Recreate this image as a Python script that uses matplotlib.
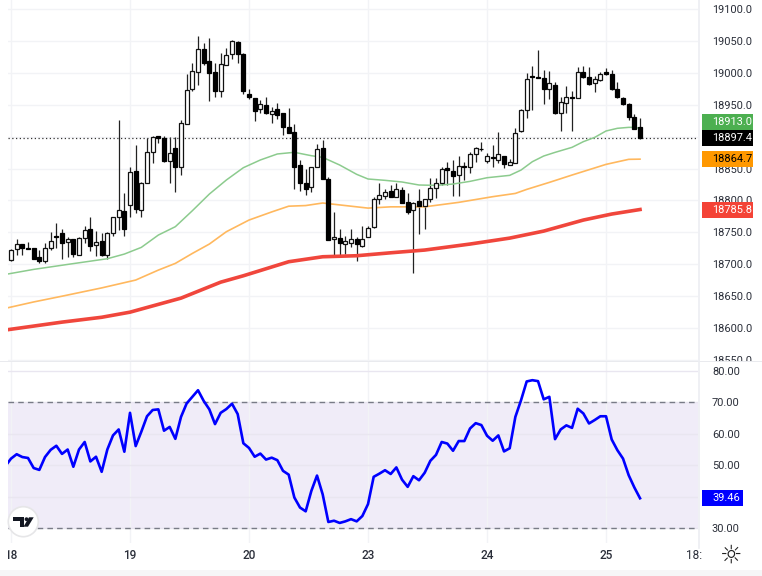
import matplotlib
matplotlib.use("Agg")
import matplotlib.pyplot as plt
from matplotlib.patches import Rectangle, Circle, Polygon
from matplotlib.transforms import Bbox, blended_transform_factory
import numpy as np

plt.rcParams['font.family'] = ['Roboto', 'DejaVu Sans']

opens = [18706.6,18723.8,18731.7,18726.0,18725.4,18710.8,18704.5,18725.4,18743.7,18749.4,
         18734.3,18740.0,18715.0,18741.6,18754.7,18729.6,18735.9,18713.9,18748.4,18773.5,
         18783.4,18792.3,18846.1,18785.0,18827.8,18875.4,18901.0,18897.8,18861.8,18881.6,
         18851.8,18920.3,18974.0,19000.8,19036.8,19018.5,19000.8,18972.0,19012.3,19029.5,
         19048.3,19029.5,18966.8,18960.0,18942.7,18949.0,18935.4,18942.7,18936.5,18914.6,
         18907.2,18855.0,18826.8,18820.5,18852.9,18881.6,18833.0,18739.0,18740.6,18731.7,
         18733.8,18739.0,18729.0,18743.2,18757.8,18802.7,18807.4,18814.2,18805.9,18816.3,
         18797.0,18784.4,18798.6,18791.2,18802.7,18818.9,18826.8,18850.3,18846.1,18839.8,
         18854.4,18851.8,18872.7,18881.1,18862.3,18868.5,18863.8,18869.6,18856.0,18859.1,
         18908.3,18941.2,18994.5,18993.4,18991.3,18975.1,18981.4,18936.5,18953.2,18962.1,
         18960.0,19000.7,18994.0,18983.5,18988.7,19000.7,18998.1,18974.1,18960.0,18950.6,
         18931.3,18914.5]
closes = [18722.3,18731.7,18725.4,18724.4,18708.7,18705.6,18725.4,18735.9,18742.1,18732.7,
          18739.0,18716.0,18741.6,18753.6,18728.5,18735.3,18715.0,18748.4,18773.5,18785.0,
          18755.2,18844.5,18786.0,18826.8,18875.4,18898.9,18898.4,18861.8,18873.8,18851.8,
          18920.8,18972.6,19002.3,19036.8,19014.9,19000.2,18972.0,19013.8,19027.4,19050.4,
          19030.0,18972.0,18961.5,18940.6,18951.1,18936.4,18940.6,18934.4,18915.6,18906.2,
          18852.9,18827.8,18817.4,18851.9,18880.1,18834.1,18738.0,18742.1,18732.7,18735.9,
          18739.0,18731.7,18739.0,18757.3,18801.7,18809.0,18813.2,18805.9,18817.4,18796.5,
          18781.8,18796.5,18791.2,18801.7,18818.9,18827.8,18848.7,18847.2,18838.3,18853.9,
          18852.3,18872.7,18881.6,18880.0,18869.6,18866.5,18872.2,18856.5,18860.7,18905.1,
          18941.2,18989.8,18992.9,18992.4,18975.1,18983.5,18936.5,18954.8,18961.6,18960.5,
          19000.7,18994.0,18982.5,18989.8,18998.1,18997.6,18974.1,18961.6,18951.1,18930.2,
          18912.4,18897.4]
highs = [18723.3,18739.0,18731.7,18734.8,18725.4,18722.3,18732.7,18750.5,18765.0,18754.7,
         18743.2,18740.0,18743.2,18759.9,18774.5,18751.5,18748.4,18750.5,18774.5,18926.0,
         18811.1,18852.9,18886.3,18828.9,18897.3,18901.0,18901.0,18901.0,18899.9,18899.9,
         18926.0,18997.6,19015.9,19057.7,19047.3,19054.6,19014.9,19030.6,19038.4,19051.4,
         19050.4,19030.6,18974.0,18960.0,18957.4,18962.6,18945.9,18952.1,18936.5,18944.3,
         18919.8,18863.4,18849.8,18852.9,18888.4,18894.7,18837.2,18782.4,18754.7,18744.2,
         18754.7,18742.1,18759.9,18759.9,18804.8,18826.8,18817.4,18824.2,18826.8,18820.5,
         18811.1,18797.5,18817.4,18802.7,18834.6,18834.6,18853.0,18860.7,18863.4,18869.6,
         18860.7,18875.9,18884.2,18892.1,18874.8,18886.3,18907.2,18869.6,18864.4,18912.9,
         18942.8,18999.2,19010.7,19035.8,19004.4,19002.3,18985.6,18962.6,18979.3,18972.0,
         19009.6,19010.7,19009.6,18995.0,19001.8,19007.0,19004.4,18985.1,18962.6,18953.2,
         18935.4,18928.6]
lows = [18705.6,18714.4,18714.4,18723.3,18708.7,18702.4,18701.4,18722.3,18724.9,18708.7,
        18711.8,18711.8,18714.4,18732.7,18720.2,18712.9,18712.9,18708.7,18744.2,18753.6,
        18744.2,18774.5,18779.8,18774.5,18827.8,18858.1,18889.5,18860.7,18827.8,18813.2,
        18840.4,18919.8,18972.0,18980.4,19012.8,18955.3,18961.6,18962.6,19012.3,19021.1,
        19015.9,18966.8,18958.4,18925.0,18937.5,18935.4,18921.8,18927.0,18903.0,18905.2,
        18817.4,18814.2,18808.5,18813.2,18852.9,18833.0,18738.0,18712.9,18710.8,18716.0,
        18727.5,18705.6,18727.5,18742.1,18756.2,18794.4,18802.7,18805.9,18805.9,18795.4,
        18778.7,18686.8,18747.4,18754.7,18798.0,18803.3,18824.2,18824.2,18806.9,18806.9,
        18832.0,18843.5,18860.7,18878.0,18859.1,18851.8,18858.1,18850.3,18855.0,18858.1,
        18907.7,18929.2,18941.7,18992.4,18951.1,18958.4,18935.4,18909.3,18936.5,18909.3,
        18960.0,18991.3,18980.9,18970.4,18987.7,18996.6,18973.0,18960.0,18949.5,18926.0,
        18911.4,18896.3]

ma_fast_idx = [-1,4,10,17,20,23,26,29,32,35,38,41,44,47,50,53,55,58,61,63,66,69,72,75,78,81,84,88,90,92,94,96,99,101,103,105,107,109,110,111]
ma_fast = [18684.1,18692.0,18699.8,18708.7,18716.0,18726.5,18745.8,18758.9,18783.9,18810.0,18832.0,18851.3,
           18863.4,18872.8,18875.4,18870.1,18867.5,18855.5,18840.9,18833.6,18831.5,18828.9,18824.2,18823.6,
           18825.7,18829.9,18835.6,18839.3,18847.6,18860.7,18869.6,18875.3,18883.2,18892.1,18898.8,18908.8,
           18913.0,18914.5,18914.5,18913.0]
ma_mid_idx = [-1,4,9,16,22,26,29,32,35,38,42,46,49,52,55,58,63,67,73,79,85,89,91,95,99,105,109,111]
ma_mid = [18631,18641,18650,18663,18675.3,18690.9,18701.4,18717.0,18731.7,18751.0,18769.3,18782.0,18791.0,
          18792.0,18796.0,18793.0,18788.0,18790.0,18790.0,18797.0,18805.9,18811.0,18817.3,18828.3,18839.8,
          18856.5,18864.4,18864.7]
ma_slow_idx = [-1,9,16,21,30,37,41,49,55,61,67,73,81,88,94,101,106,111]
ma_slow = [18597,18609.4,18617,18625,18647,18672,18682,18704,18711.8,18713.4,18718,18722.3,18731.7,18741,
           18752,18769.3,18778.7,18785.8]

rsi = [49.7,52.1,53.5,52.6,52.3,49.1,48.5,52.6,54.9,56.2,53.6,55.0,49.5,55.0,57.4,51.2,52.7,47.9,55.0,59.5,61.4,
       54.3,66.7,56.1,60.7,65.6,67.6,67.8,61.0,62.2,58.4,65.4,69.7,71.8,73.9,70.5,67.8,63.1,66.7,67.9,69.6,66.3,
       57.0,55.5,52.7,53.7,51.8,52.4,51.6,48.2,47.0,39.7,36.5,35.3,41.8,46.7,40.7,31.9,32.3,31.6,32.1,32.8,32.1,
       33.8,37.6,46.3,47.3,48.4,47.2,49.3,45.4,43.1,46.5,45.2,47.6,51.4,53.3,57.4,56.9,54.6,57.7,57.7,61.7,63.4,
       62.8,59.4,57.8,59.5,54.4,55.4,65.4,70.7,76.7,77.1,76.8,71.0,71.8,58.3,61.4,62.7,61.9,68.0,66.5,63.3,64.4,
       65.6,65.6,58.2,54.8,52.1,46.8,42.9,39.46]

date_idx = [0, 21, 42, 63, 84, 105]
date_labels = ['18', '19', '20', '23', '24', '25']
price_grid = [18550,18600,18650,18700,18750,18800,18850,18900,18950,19000,19050,19100]
rsi_ticks = [30,40,50,60,70,80]
rsi_tick_labels = ['30.00','','50.00','60.00','70.00','80.00']

W, H = 762, 576
fig = plt.figure(figsize=(W/100, H/100), dpi=100, facecolor='white')
def axbox(l, t, r, b):
    return [l/W, 1-b/H, (r-l)/W, (b-t)/H]
ax = fig.add_axes(axbox(8, 0, 698, 361))
ar = fig.add_axes(axbox(8, 362, 698, 543))
GRID = '#f2f3f6'
TXT = '#2a2e39'
xlim = (-0.53, 121.23)
for a in (ax, ar):
    a.set_xlim(*xlim)
    for s in a.spines.values():
        s.set_visible(False)
    a.yaxis.tick_right()
    a.set_xticks(date_idx)
    a.set_xticklabels([])
    a.tick_params(length=0)
    a.set_axisbelow(True)
    a.grid(True, color=GRID, lw=1.0, axis='x')
ax.set_ylim(18548.5, 19114)
ar.set_ylim(25.2, 82.9)
ax.set_yticks(price_grid)
ax.set_yticklabels([f'{t:.1f}' if t != 18900 else '' for t in price_grid], fontsize=7.9, color=TXT)
ax.tick_params(axis='y', pad=10)
ax.grid(True, color=GRID, lw=1.0, axis='y')
ar.set_yticks(rsi_ticks)
ar.set_yticklabels(rsi_tick_labels, fontsize=7.9, color=TXT)
ar.tick_params(axis='y', pad=10)
ar.grid(True, color='#e9e6f0', lw=1.0, axis='y')

# candles
idx = np.arange(len(opens))
o, c, h, l = map(np.array, (opens, closes, highs, lows))
up = c >= o
ax.vlines(idx, l, h, color='#222222', lw=0.9, zorder=3)
ax.bar(idx[up], (c-o)[up], bottom=o[up], width=0.66, facecolor='white', edgecolor='#111111', lw=0.9, zorder=4)
ax.bar(idx[~up], (c-o)[~up], bottom=o[~up], width=0.66, facecolor='black', edgecolor='black', lw=0.9, zorder=4)

# moving averages
ax.plot(ma_fast_idx, ma_fast, color='#8ccb8e', lw=1.1, zorder=3.5)
ax.plot(ma_mid_idx, ma_mid, color='#ffb85e', lw=1.2, zorder=3.5)
ax.plot(ma_slow_idx, ma_slow, color='#f0463c', lw=2.6, zorder=3.5)
ax.axhline(closes[-1], color='#333333', lw=0.9, ls=(0, (1, 2)), zorder=3)

# price labels
tr = blended_transform_factory(ax.transAxes, ax.transData)
px = 0.638 ** -1
def price_label(a, tr_, value, text, face, txt, half_h):
    x0 = (702-8)/690
    w = 51/690
    a.add_patch(Rectangle((x0, value-half_h), w, 2*half_h, transform=tr_, facecolor=face,
                          edgecolor='none', clip_on=False, zorder=6))
    a.text(x0 + 10/690, value, text, transform=tr_, color=txt, fontsize=7.9, va='center', ha='left',
           clip_on=False, zorder=7)
price_label(ax, tr, 18923.0, '18913.0', '#4caf50', '#ffffff', 8*px)
price_label(ax, tr, closes[-1], '18897.4', '#000000', '#ffffff', 8*px)
price_label(ax, tr, 18864.7, '18864.7', '#ff9800', '#000000', 8*px)
price_label(ax, tr, 18785.8, '18785.8', '#f44336', '#ffffff', 8*px)

# RSI
ar.axhspan(30, 70, color='#7e57c2', alpha=0.11, lw=0, zorder=0)
ar.axhline(70, color='#787b86', lw=1, ls=(0, (4, 3)), zorder=1)
ar.axhline(30, color='#787b86', lw=1, ls=(0, (4, 3)), zorder=1)
ar.plot(np.arange(-1, len(rsi)-1), rsi, color='#0000ff', lw=1.9, zorder=3, solid_joinstyle='round')
tr2 = blended_transform_factory(ar.transAxes, ar.transData)
ar.add_patch(Rectangle((694/690, rsi[-1]-2.55), 41/690, 5.1, transform=tr2, facecolor='#0000ff',
                       edgecolor='none', clip_on=False, zorder=6))
ar.text(704/690, rsi[-1], f'{rsi[-1]:.2f}', transform=tr2, color='white', fontsize=7.9, va='center', ha='left',
        clip_on=False, zorder=7)

# overlay: chrome, time axis, logo
ov = fig.add_axes([0, 0, 1, 1], zorder=10)
ov.set_xlim(0, W); ov.set_ylim(H, 0); ov.axis('off'); ov.patch.set_alpha(0)
ov.add_patch(Rectangle((702, 362), 60, 5, facecolor='white', edgecolor='none'))
ov.add_patch(Rectangle((0, 360.5), 762, 1.6, facecolor='#e9eaee', edgecolor='none'))
ov.add_patch(Rectangle((0, 570), 762, 6, facecolor='#f6f6f7', edgecolor='none'))
ov.plot([698.5, 698.5], [0, 548], color='#eceef2', lw=1.2)
clip = Bbox([[8, 0], [702, 576]])
for i, lab in zip(date_idx, date_labels):
    xp = ax.transData.transform((i, 0))[0]
    t = ov.text(xp, 555.5, lab, fontsize=8.5, color=TXT, ha='center', va='center', fontweight='medium')
    t.set_clip_on(True); t.set_clip_box(clip)
t = ov.text(701, 555.5, '18:00', fontsize=8.5, color=TXT, ha='center', va='center')
t.set_clip_on(True); t.set_clip_box(clip)
ov.text(731, 556, '\u263c', fontsize=18, color='#222222', ha='center', va='center', family='DejaVu Sans')
ov.add_patch(Circle((23.3, 521.7), 15, facecolor='white', edgecolor='#e6e6e8', lw=1.2))
ov.add_patch(Polygon([(13.3,517.3),(24,517.3),(24,526.7),(19.5,526.7),(19.5,520.8),(13.3,520.8)], facecolor='#131722', edgecolor='none'))
ov.add_patch(Circle((26.5, 519.2), 1.9, facecolor='#131722', edgecolor='none'))
ov.add_patch(Polygon([(29,517.3),(33.7,517.3),(28,526.7),(23.5,526.7)], facecolor='#131722', edgecolor='none'))

fig.savefig('out.png', dpi=100)
